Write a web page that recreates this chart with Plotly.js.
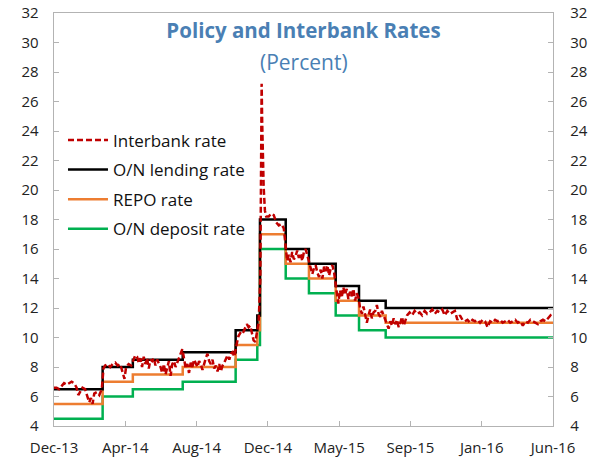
<!DOCTYPE html>
<html>
<head>
<meta charset="utf-8">
<script src="https://cdn.plot.ly/plotly-3.0.1.min.js"></script>
<style>html,body{margin:0;padding:0;background:#fff;}#chart{width:594px;height:460px;}</style>
</head>
<body>
<div id="chart"></div>
<script>
// Tick labels (equally spaced in trading-day observations)
const tickLabels = ["Dec-13","Apr-14","Aug-14","Dec-14","May-15","Sep-15","Jan-16","Jun-16"];
const tickIdx = [0, 85, 170, 255, 340, 425, 510, 595];

// Policy rate change points (observation index) and levels
const policyIdx = [0, 58, 94, 153.5, 216.6, 242.4, 245.6, 276.3, 304, 335.9, 363.7, 395.5, 595];
const lendingRate = [6.5, 8, 8.5, 9, 10.5, 11.5, 18, 16, 15, 13.5, 12.5, 12, 12];
const repoRate    = [5.5, 7, 7.5, 8, 9.5, 10.5, 17, 15, 14, 12.5, 11.5, 11, 11];
const depositRate = [4.5, 6, 6.5, 7, 8.5, 9.5, 16, 14, 13, 11.5, 10.5, 10, 10];

// Interbank rate (observation index, percent)
const ibIdx = [0,3,6,9,12,15,18,21,24,27,29,31,34,37,40,42,44,46,48,51,54,57,
  59,61,64,67,70,73,76,79,82,84,86,89,92,
  95,97,99,101,103,105,107,109,111,113,115,117,119,121,123,125,127,129,131,133,135,137,139,141,143,145,147,149,151,153,
  155,157,159,161,163,165,167,169,171,173,175,177,179,181,183,185,187,189,191,193,195,197,199,201,203,205,207,209,211,213,215,
  218,220,222,224,226,228,230,232,234,236,238,240,242,
  244,246,247,247.6,248.2,249,250,251.5,253,256,259,262,265,268,271,274,276,
  278,280,282,284,286,288,290,292,294,296,298,300,302,304,
  306,308,310,312,314,316,318,320,322,324,326,328,330,332,334,
  337,339,341,343,345,347,349,351,353,355,357,359,361,363,
  365,367,369,371,373,375,377,379,381,383,385,387,389,391,393,
  397,399,401,403,405,407,409,411,413,415,417,419,421,424,427,430,433,436,439,442,445,448,451,454,457,460,463,466,469,472,475,478,
  481,484,487,490,493,496,499,502,505,508,511,514,517,520,523,526,529,532,535,538,541,544,547,550,553,556,559,562,565,568,571,574,577,580,583,586,589,592,595];
const ibVal = [6.6,6.6,6.5,6.7,6.9,6.8,6.9,7.0,6.9,6.6,6.1,6.3,6.6,6.5,6.0,5.6,5.9,5.5,6.2,6.3,6.1,6.5,
  7.9,8.1,8.2,8.0,8.2,8.3,8.1,8.2,7.6,7.2,8.0,8.2,8.1,
  8.5,8.8,8.7,8.3,8.6,8.0,8.7,8.2,8.6,7.9,8.5,8.4,8.6,8.1,8.5,8.3,8.0,7.6,8.2,7.5,7.9,8.4,7.4,8.2,8.4,8.0,8.3,8.6,8.9,9.2,
  8.6,7.9,8.2,7.6,8.3,8.0,8.5,8.2,8.0,8.4,8.2,7.8,8.3,8.6,8.9,8.4,8.2,8.5,7.9,8.1,7.7,8.2,7.7,8.1,8.3,8.6,8.8,8.5,8.9,9.0,8.7,
  9.6,10.1,10.3,10.2,10.4,10.6,10.9,10.7,10.8,10.3,9.8,9.7,10.4,
  11.0,14.0,24.0,27.2,24.7,22.5,20.2,18.6,18.2,18.2,18.4,18.3,17.8,17.6,17.7,17.4,16.2,
  15.2,15.6,15.1,15.8,15.3,15.5,15.9,15.4,15.7,15.2,15.8,16.0,15.6,15.2,
  14.8,14.3,14.7,14.9,14.4,14.1,14.6,14.0,14.8,14.5,14.9,14.2,14.7,14.9,14.4,
  13.0,12.3,13.2,12.7,13.4,12.9,13.3,12.6,13.1,12.8,13.3,12.5,13.0,12.7,
  12.0,11.6,12.1,11.4,11.0,11.5,11.9,11.3,11.7,11.8,12.2,11.6,11.4,11.8,11.5,
  11.0,10.6,11.1,10.8,11.3,10.9,11.2,10.7,11.0,11.4,10.8,11.1,11.5,11.7,11.5,11.8,11.6,11.7,11.5,11.8,11.6,11.7,11.9,11.6,11.8,11.7,11.9,11.5,11.8,11.6,11.7,11.8,
  11.2,11.5,11.2,11.1,11.2,11.0,11.2,11.1,11.2,11.0,11.2,11.1,10.7,11.1,11.0,11.2,11.1,11.2,11.0,11.1,11.2,11.0,11.1,11.2,11.0,11.1,10.8,11.1,11.0,11.2,11.1,11.0,10.9,11.1,11.2,11.1,11.3,11.5,11.3];

const FONT = "Open Sans, Noto Sans, sans-serif";
const axisGray = "#b3b3b3";

const traces = [
  {x: policyIdx, y: depositRate, name: "O/N deposit rate", mode: "lines", line: {color: "#00b050", width: 2.5, shape: "hv"}, legendrank: 4, legendgroup: "d"},
  {x: policyIdx, y: repoRate, name: "REPO rate", mode: "lines", line: {color: "#ed7d31", width: 2.5, shape: "hv"}, legendrank: 3, legendgroup: "r"},
  {x: policyIdx, y: lendingRate, name: "O/N lending rate", mode: "lines", line: {color: "#000000", width: 2.5, shape: "hv"}, legendrank: 2, legendgroup: "l"},
  {x: ibIdx, y: ibVal, name: "Interbank rate", mode: "lines", line: {color: "#c00000", width: 2.5, dash: "6px,3px"}, legendrank: 1, legendgroup: "i"},
  {x: [0], y: [4], yaxis: "y2", mode: "markers", marker: {opacity: 0}, showlegend: false, hoverinfo: "skip"}
];

const layout = {
  width: 594, height: 460,
  margin: {l: 54, r: 41, t: 13, b: 34, autoexpand: false},
  paper_bgcolor: "#fff", plot_bgcolor: "#fff",
  font: {family: FONT, size: 15, color: "#222"},
  title: {text: "<b>Policy and Interbank Rates</b>", font: {family: FONT, size: 20.5, color: "#4a7fb4"},
          x: 0.5, xref: "paper", xanchor: "center", y: 1 - 31/460, yref: "container", yanchor: "middle"},
  annotations: [{text: "(Percent)", xref: "paper", yref: "paper", x: 0.5, y: (460 - 34 - 62) / (460 - 13 - 34),
                 xanchor: "center", yanchor: "middle", showarrow: false, font: {family: FONT, size: 21, color: "#4a7fb4"}}],
  showlegend: true,
  legend: {x: 0.018, y: 0.735, xanchor: "left", yanchor: "top", bgcolor: "rgba(0,0,0,0)",
           font: {family: FONT, size: 17, color: "#111"}, itemwidth: 40, tracegroupgap: 4.5, traceorder: "grouped"},
  xaxis: {range: [0, 595], tickvals: tickIdx, ticktext: tickLabels, ticks: "inside", ticklen: 5, tickcolor: axisGray,
          showline: true, linecolor: axisGray, linewidth: 1.3, mirror: true, showgrid: false, zeroline: false,
          ticklabelstandoff: 8, tickfont: {family: FONT, size: 15, color: "#222"}},
  yaxis: {range: [4, 32], dtick: 2, ticks: "inside", ticklen: 5, tickcolor: axisGray, showline: true, linecolor: axisGray,
          linewidth: 1.3, showgrid: false, zeroline: false, ticklabelstandoff: 11, tickfont: {family: FONT, size: 15, color: "#222"}},
  yaxis2: {range: [4, 32], dtick: 2, overlaying: "y", side: "right", ticks: "inside", ticklen: 5, tickcolor: axisGray,
           showline: true, linecolor: axisGray, linewidth: 1.3, showgrid: false, zeroline: false, ticklabelstandoff: 13,
           tickfont: {family: FONT, size: 15, color: "#222"}}
};

Plotly.newPlot("chart", traces, layout, {staticPlot: true, displayModeBar: false});
</script>
</body>
</html>
